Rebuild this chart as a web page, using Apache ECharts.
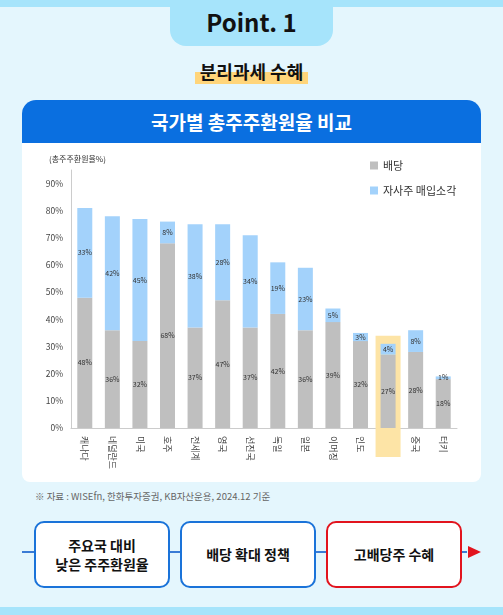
<!DOCTYPE html>
<html>
<head>
<meta charset="utf-8">
<script src="https://cdn.jsdelivr.net/npm/echarts@6/dist/echarts.min.js"></script>
<style>
  body { margin: 0; width: 503px; height: 615px; background: #e4f6fd; position: relative; overflow: hidden; font-family: "Noto Sans CJK KR", sans-serif; }
  .strip { position: absolute; left: 0; width: 503px; background: #a6e4fb; }
  .tab { position: absolute; left: 170px; top: 0; width: 163px; height: 46px; background: #a6e4fb; border-radius: 0 0 16px 16px; text-align: center; line-height: 44px; font-size: 24px; font-weight: bold; color: #111; }
  .sub { position: absolute; left: 0; width: 503px; top: 58px; text-align: center; }
  .sub span { font-size: 18px; font-weight: bold; color: #111; background: linear-gradient(transparent 55%, #ffd57a 55%); padding: 0 5px; }
  .card { position: absolute; left: 22px; top: 100px; width: 459px; height: 382px; background: #fff; border-radius: 14px 14px 8px 8px; overflow: hidden; }
  .head { height: 43px; background: #0a6fe0; color: #fff; text-align: center; line-height: 43px; font-size: 19px; font-weight: bold; }
  #chart { width: 459px; height: 339px; }
  .src { position: absolute; left: 35px; top: 489px; font-size: 9.5px; color: #666; }
  .line { position: absolute; left: 22px; top: 551px; width: 445px; height: 2px; background: #3a7bd5; }
  .arrow { position: absolute; left: 468px; top: 546px; border-left: 13px solid #e2141e; border-top: 6px solid transparent; border-bottom: 6px solid transparent; }
  .box { position: absolute; top: 521px; height: 63px; background: #fff; border: 2px solid #1a73d9; border-radius: 10px; display: flex; align-items: center; justify-content: center; text-align: center; font-size: 14px; font-weight: bold; color: #111; line-height: 19px; }
</style>
</head>
<body>
<div class="strip" style="top:0;height:7px"></div>
<div class="strip" style="top:607px;height:8px"></div>
<div class="tab">Point. 1</div>
<div class="sub"><span>분리과세 수혜</span></div>
<div class="card">
  <div class="head">국가별 총주주환원율 비교</div>
  <div id="chart"></div>
</div>
<div class="src">※ 자료 : WISEfn, 한화투자증권, KB자산운용, 2024.12 기준</div>
<div class="line"></div>
<div class="arrow"></div>
<div class="box" style="left:34px;width:132px">주요국 대비<br>낮은 주주환원율</div>
<div class="box" style="left:180px;width:132px">배당 확대 정책</div>
<div class="box" style="left:326px;width:132px;border-color:#e2141e">고배당주 수혜</div>
<script>
const countries = ['캐나다', '네덜란드', '미국', '호주', '전세계', '영국', '선진국', '독일', '일본', '이머징', '인도', '한국', '중국', '터키']
const dividend = [48, 36, 32, 68, 37, 47, 37, 42, 36, 39, 32, 27, 28, 18]
const buyback = [33, 42, 45, 8, 38, 28, 34, 19, 23, 5, 3, 4, 8, 1]
const yTicks = [0, 10, 20, 30, 40, 50, 60, 70, 80, 90]
const highlight = '한국'

const chart = echarts.init(document.getElementById('chart'))
const lbl = { show: true, position: 'inside', formatter: '{c}%', fontSize: 7, color: '#333', fontFamily: 'Noto Sans CJK KR' }
chart.setOption({
  animation: false,
  textStyle: { fontFamily: 'Noto Sans CJK KR' },
  grid: { left: 49, right: 24, top: 27, bottom: 54 },
  title: { text: '(총주주환원율%)', left: 22, top: 7, textStyle: { fontSize: 8, fontWeight: 'normal', color: '#333' } },
  legend: {
    orient: 'vertical', left: 343, top: 12, itemGap: 14, itemWidth: 8, itemHeight: 8, icon: 'rect',
    textStyle: { fontSize: 11, color: '#333' }
  },
  xAxis: {
    type: 'category', data: countries,
    axisTick: { show: false }, axisLine: { lineStyle: { color: '#ccc' } },
    axisLabel: { rotate: -90, fontSize: 9, color: '#444', interval: 0 }
  },
  yAxis: {
    type: 'value', min: 0, max: 95, interval: 10,
    axisLine: { show: true, lineStyle: { color: '#ccc' } }, splitLine: { show: false },
    axisLabel: { fontSize: 8.5, color: '#444', formatter: v => yTicks.includes(v) ? v + '%' : '' }
  },
  series: [
    { name: '배당', type: 'bar', stack: 't', data: dividend, barWidth: 15, itemStyle: { color: '#bfbfbf' }, label: lbl, z: 3 },
    { name: '자사주 매입소각', type: 'bar', stack: 't', data: buyback, barWidth: 15, itemStyle: { color: '#a3d2fb' }, label: lbl, z: 3 }
  ]
})

// highlight box behind the 한국 bar, placed through the axis scales
const hi = countries.indexOf(highlight)
const hiTop = chart.convertToPixel({ gridIndex: 0 }, [hi, dividend[hi] + buyback[hi] + 3])
const hiBase = chart.convertToPixel({ gridIndex: 0 }, [hi, 0])
chart.setOption({
  graphic: [{
    type: 'rect', z: 1,
    shape: { x: hiTop[0] - 12.5, y: hiTop[1], width: 25, height: hiBase[1] - hiTop[1] + 29 },
    style: { fill: '#fde4a6' }
  }]
})
</script>
</body>
</html>
